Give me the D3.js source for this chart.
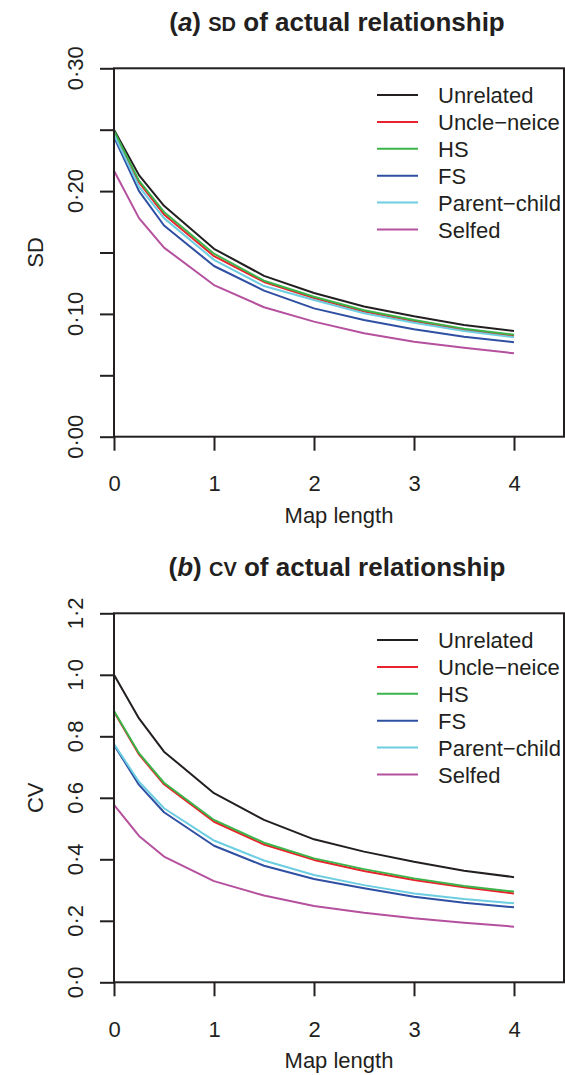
<!DOCTYPE html>
<html>
<head>
<meta charset="utf-8">
<script src="https://cdn.jsdelivr.net/npm/d3@7"></script>
<style>
  html, body { margin: 0; padding: 0; background: #fff; }
  svg { display: block; }
</style>
</head>
<body>
<div id="chart"></div>
<script>
// map lengths at which relationships were evaluated
const mapLength = [0, 0.25, 0.5, 1, 1.5, 2, 2.5, 3, 3.5, 4];

const relationships = ["Unrelated", "Uncle\u2212neice", "HS", "FS", "Parent\u2212child", "Selfed"];

// (a) SD of actual relationship
const sdUnrelated   = [0.250, 0.213, 0.188, 0.153, 0.131, 0.117, 0.106, 0.098, 0.091, 0.086];
const sdUncleNeice  = [0.2475, 0.207, 0.181, 0.147, 0.126, 0.113, 0.102, 0.094, 0.087, 0.082];
const sdHS          = [0.249, 0.2085, 0.183, 0.149, 0.127, 0.114, 0.103, 0.095, 0.088, 0.083];
const sdFS          = [0.244, 0.200, 0.172, 0.139, 0.119, 0.1045, 0.095, 0.0875, 0.0814, 0.0769];
const sdParentChild = [0.246, 0.2036, 0.178, 0.144, 0.1227, 0.1113, 0.1005, 0.0928, 0.0861, 0.0809];
const sdSelfed      = [0.2165, 0.178, 0.154, 0.1235, 0.1054, 0.0937, 0.0842, 0.0774, 0.0725, 0.0679];

// (b) CV of actual relationship
const cvUnrelated   = [1.000, 0.858, 0.750, 0.615, 0.528, 0.465, 0.425, 0.392, 0.363, 0.342];
const cvUncleNeice  = [0.880, 0.741, 0.644, 0.522, 0.448, 0.398, 0.362, 0.333, 0.309, 0.289];
const cvHS          = [0.882, 0.745, 0.649, 0.528, 0.454, 0.403, 0.368, 0.338, 0.313, 0.295];
const cvFS          = [0.772, 0.642, 0.553, 0.444, 0.379, 0.336, 0.306, 0.278, 0.259, 0.244];
const cvParentChild = [0.775, 0.652, 0.566, 0.461, 0.396, 0.349, 0.316, 0.289, 0.271, 0.257];
const cvSelfed      = [0.577, 0.476, 0.409, 0.329, 0.282, 0.248, 0.226, 0.208, 0.194, 0.181];

const xTicks = [0, 1, 2, 3, 4];
const sdTicks = [0, 0.05, 0.10, 0.15, 0.20, 0.25, 0.30];
const sdTickLabels = ["0\u00b700", "", "0\u00b710", "", "0\u00b720", "", "0\u00b730"];
const cvTicks = [0, 0.2, 0.4, 0.6, 0.8, 1.0, 1.2];
const cvTickLabels = ["0\u00b70", "0\u00b72", "0\u00b74", "0\u00b76", "0\u00b78", "1\u00b70", "1\u00b72"];

const colors = ["#231f20", "#e8232b", "#3bb54a", "#2e4fa2", "#6dcde1", "#b5509f"];
const ink = "#231f20";
const font = "'Liberation Sans', Arial, Helvetica, sans-serif";

const svg = d3.select("#chart").append("svg")
  .attr("width", 565)
  .attr("height", 1075)
  .attr("font-family", font);

function drawPanel(p) {
  const g = svg.append("g");
  const x = d3.scaleLinear().domain([0, 4.5]).range([114, 564]);
  const y = d3.scaleLinear().domain(p.yDomain).range([p.bottom, p.top]);

  // title
  const t = g.append("text")
    .attr("x", 337).attr("y", p.top - 37)
    .attr("text-anchor", "middle")
    .attr("font-size", 26).attr("font-weight", "bold").attr("fill", ink);
  t.append("tspan").text("(");
  t.append("tspan").attr("font-style", "italic").text(p.letter);
  t.append("tspan").text(") ");
  t.append("tspan").attr("font-size", 20).text(p.abbr);
  t.append("tspan").text(" of actual relationship");

  // lines
  const line = d3.line().x((d, i) => x(mapLength[i])).y(d => y(d));
  g.selectAll("path.series")
    .data(p.series)
    .join("path")
    .attr("class", "series")
    .attr("d", d => line(d))
    .attr("fill", "none")
    .attr("stroke", (d, i) => colors[i])
    .attr("stroke-width", 2)
    .attr("stroke-linejoin", "round");

  // box
  g.append("rect")
    .attr("x", x(0)).attr("y", p.top)
    .attr("width", x(4.5) - x(0)).attr("height", p.bottom - p.top)
    .attr("fill", "none").attr("stroke", ink).attr("stroke-width", 2);

  // x axis
  const xa = g.append("g")
    .attr("transform", `translate(0,${p.bottom})`)
    .call(d3.axisBottom(x).tickValues(xTicks).tickFormat(d3.format("d"))
      .tickSize(14).tickPadding(25).tickSizeOuter(0));
  xa.select(".domain").remove();
  xa.selectAll("line").attr("stroke", ink).attr("stroke-width", 2);
  xa.selectAll("text").attr("font-size", 22).attr("fill", ink).attr("font-family", font);

  g.append("text")
    .attr("x", 339).attr("y", p.bottom + 86)
    .attr("text-anchor", "middle")
    .attr("font-size", 22).attr("fill", ink)
    .text("Map length");

  // y axis
  const ya = g.append("g")
    .attr("transform", `translate(${x(0)},0)`)
    .call(d3.axisLeft(y).tickValues(p.yTicks).tickSize(14).tickFormat("").tickSizeOuter(0));
  ya.select(".domain").remove();
  ya.selectAll("line").attr("stroke", ink).attr("stroke-width", 2);

  g.selectAll("text.ylab")
    .data(p.yTicks)
    .join("text")
    .attr("class", "ylab")
    .attr("transform", d => `translate(83,${y(d)}) rotate(-90)`)
    .attr("text-anchor", "middle")
    .attr("font-size", 22).attr("fill", ink)
    .text((d, i) => p.yTickLabels[i]);

  g.append("text")
    .attr("transform", `translate(43,${(p.top + p.bottom) / 2}) rotate(-90)`)
    .attr("text-anchor", "middle")
    .attr("font-size", 22).attr("fill", ink)
    .text(p.abbr);

  // legend
  const leg = g.selectAll("g.leg")
    .data(relationships)
    .join("g")
    .attr("class", "leg")
    .attr("transform", (d, i) => `translate(0,${p.top + 26.7 + i * 26.9})`);
  leg.append("line")
    .attr("x1", 377).attr("x2", 418)
    .attr("stroke", (d, i) => colors[i]).attr("stroke-width", 2);
  leg.append("text")
    .attr("x", 438).attr("y", 8)
    .attr("font-size", 22).attr("fill", ink)
    .text(d => d);
}

drawPanel({
  letter: "a", abbr: "SD",
  top: 68.3, bottom: 436.7, yDomain: [0, 0.3],
  yTicks: sdTicks, yTickLabels: sdTickLabels,
  series: [sdUnrelated, sdUncleNeice, sdHS, sdFS, sdParentChild, sdSelfed]
});

drawPanel({
  letter: "b", abbr: "CV",
  top: 613.3, bottom: 982.3, yDomain: [0, 1.2],
  yTicks: cvTicks, yTickLabels: cvTickLabels,
  series: [cvUnrelated, cvUncleNeice, cvHS, cvFS, cvParentChild, cvSelfed]
});
</script>
</body>
</html>
